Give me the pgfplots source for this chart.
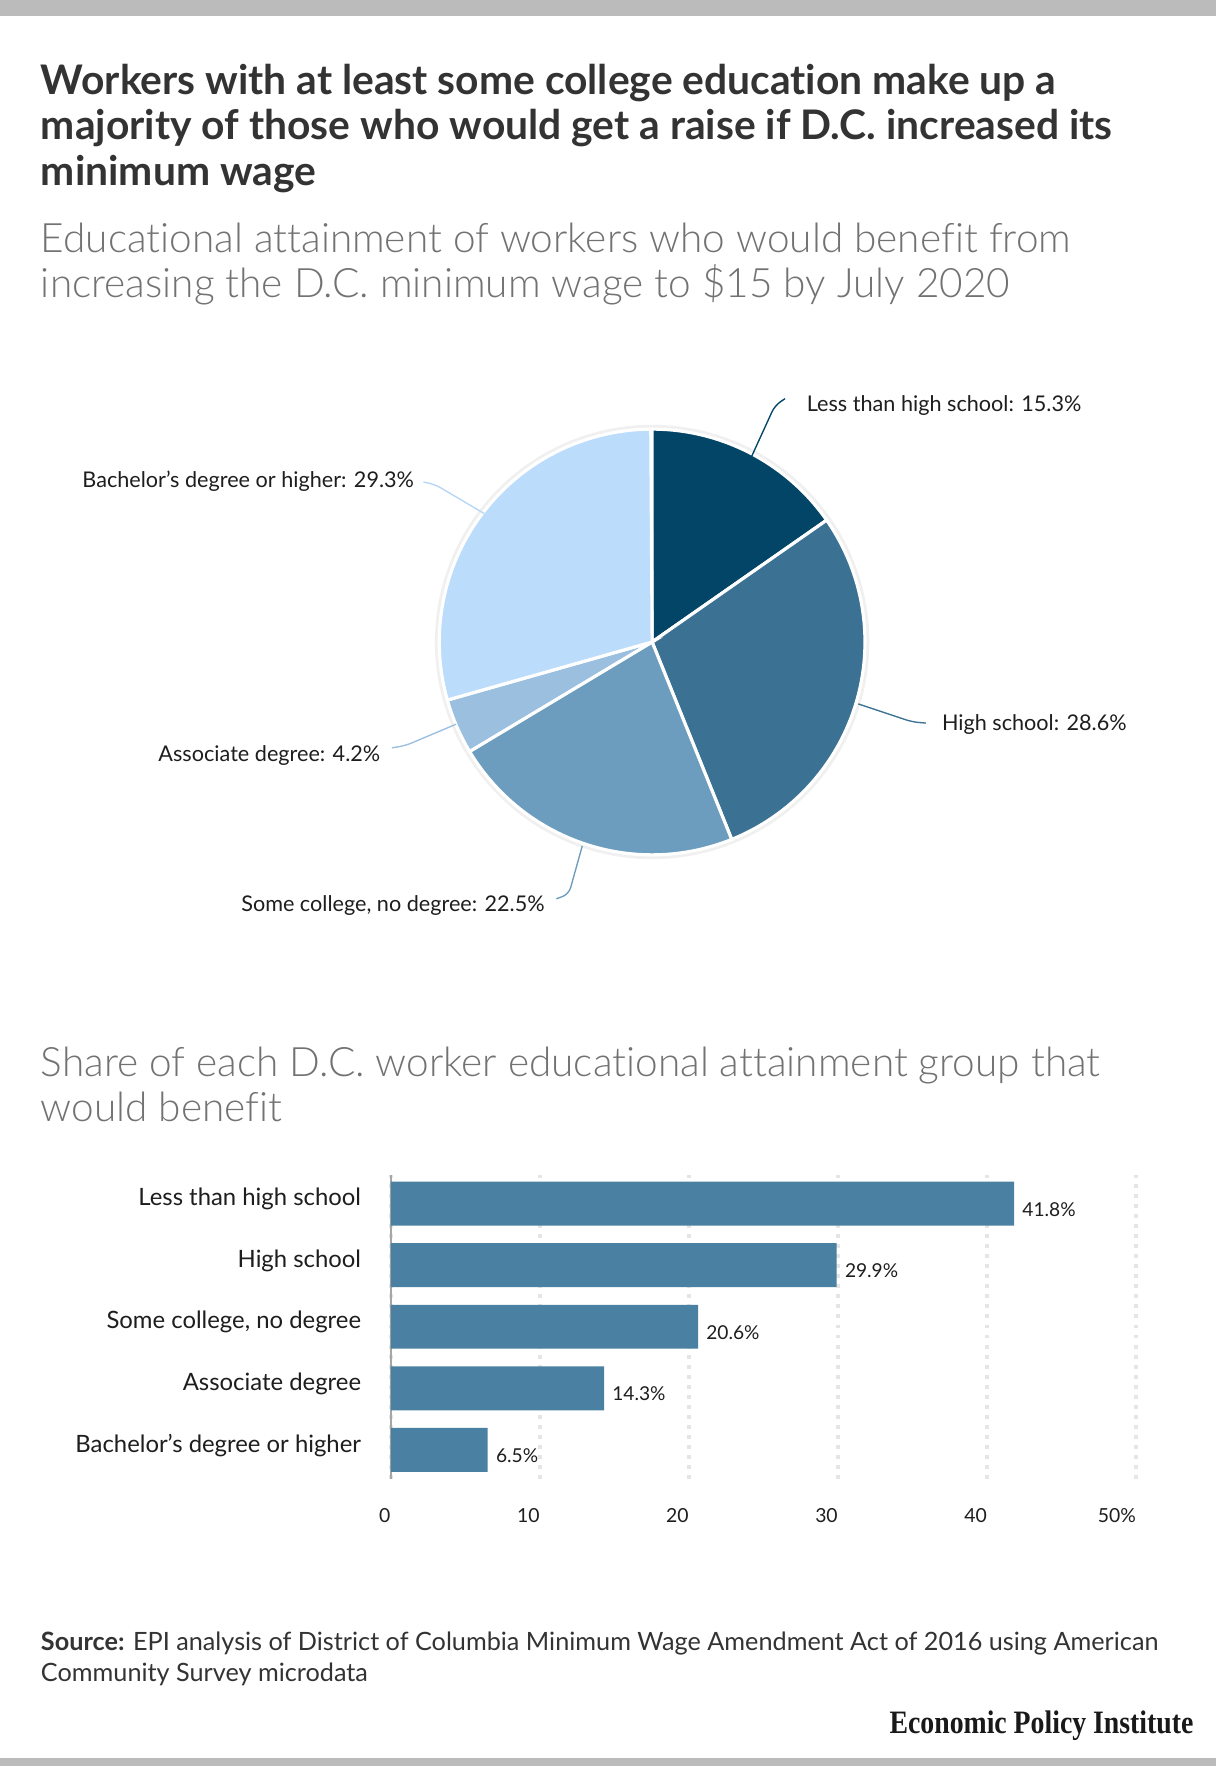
\documentclass[border=0pt]{standalone}
\usepackage{fontspec}
\setmainfont{Lato}[Ligatures={NoCommon}]
\newfontfamily\lightfont{Lato Light}[Ligatures={NoCommon}]
\newfontfamily\epifont[FakeStretch=0.85]{Liberation Serif}
\usepackage{pgfplots}
\pgfplotsset{compat=1.18}
\definecolor{cA}{HTML}{034566}
\definecolor{cB}{HTML}{3B7294}
\definecolor{cC}{HTML}{6C9DBE}
\definecolor{cD}{HTML}{9ABFDF}
\definecolor{cE}{HTML}{BCDCFC}
\definecolor{barc}{HTML}{4A80A1}
\definecolor{titlec}{HTML}{333333}
\definecolor{subc}{HTML}{727272}
\definecolor{labc}{HTML}{1E1E1E}
\definecolor{topgray}{HTML}{BBBBBB}
% pie shares (percent), clockwise from 12 o'clock
\def\pA{15.3}\def\pB{28.6}\def\pC{22.5}\def\pD{4.2}\def\pE{29.3}
\pgfmathsetmacro\aA{90}
\pgfmathsetmacro\aB{\aA-\pA*3.6}
\pgfmathsetmacro\aC{\aB-\pB*3.6}
\pgfmathsetmacro\aD{\aC-\pC*3.6}
\pgfmathsetmacro\aE{\aD-\pD*3.6}
\pgfmathsetmacro\aF{\aE-\pE*3.6}
\begin{document}
\begin{tikzpicture}[x=0.5pt,y=0.5pt]
\path[use as bounding box, fill=white] (0,0) rectangle (1080,-1568);
\fill[topgray] (0,0) rectangle (1080,-14);
\fill[topgray] (0,-1561) rectangle (1080,-1568);
% title
\begin{scope}[every node/.style={anchor=base west, inner sep=0pt, text=titlec, font=\fontsize{18.1}{20}\selectfont\bfseries}]
\node at (36,-84) {Workers with at least some college education make up a};
\node at (36,-124) {majority of those who would get a raise if D.C. increased its};
\node at (36,-165) {minimum wage};
\end{scope}
\begin{scope}[every node/.style={anchor=base west, inner sep=0pt, text=subc, font=\lightfont\fontsize{18}{20}\selectfont}]
\node at (36,-224) {Educational attainment of workers who would benefit from};
\node at (36,-264) {increasing the D.C. minimum wage to \$15 by July 2020};
\node at (36,-956) {Share of each D.C. worker educational attainment group that};
\node at (36,-996) {would benefit};
\end{scope}
% pie
\begin{axis}[at={(289.5pt,-285pt)}, anchor=center, x=94.5pt, y=94.5pt, scale only axis,
  xmin=-1, xmax=1, ymin=-1, ymax=1, hide axis, clip=false]
\addplot[draw=black!6, line width=1.6pt, domain=0:360, samples=120] ({1.012*cos(x)},{1.012*sin(x)});
\addplot[fill=cA, draw=white, line width=1.4pt, domain=\aB:\aA, samples=40] ({cos(x)},{sin(x)}) -- (0,0) -- cycle;
\addplot[fill=cB, draw=white, line width=1.4pt, domain=\aC:\aB, samples=60] ({cos(x)},{sin(x)}) -- (0,0) -- cycle;
\addplot[fill=cC, draw=white, line width=1.4pt, domain=\aD:\aC, samples=60] ({cos(x)},{sin(x)}) -- (0,0) -- cycle;
\addplot[fill=cD, draw=white, line width=1.4pt, domain=\aE:\aD, samples=20] ({cos(x)},{sin(x)}) -- (0,0) -- cycle;
\addplot[fill=cE, draw=white, line width=1.4pt, domain=\aF:\aE, samples=60] ({cos(x)},{sin(x)}) -- (0,0) -- cycle;
\end{axis}
% leader lines
\draw[cA, line width=0.6pt, rounded corners=3pt] (667,-406) -- (688,-360) -- (697,-354);
\draw[cE!80!cD, line width=0.6pt, rounded corners=3pt] (430,-456) -- (386,-430) -- (376,-428);
\draw[cB, line width=0.6pt, rounded corners=3pt] (762,-625) -- (810,-641) -- (822,-642);
\draw[cD, line width=0.6pt, rounded corners=3pt] (405,-643) -- (360,-662) -- (348,-664);
\draw[cC, line width=0.6pt, rounded corners=3pt] (517,-751) -- (505,-794) -- (494,-798);
\begin{scope}[every node/.style={inner sep=0pt, text=labc, font=\fontsize{9.6}{11}\selectfont}]
\node[anchor=base west] at (716,-365) {Less than high school: 15.3\%};
\node[anchor=base east] at (368,-433) {Bachelor’s degree or higher: 29.3\%};
\node[anchor=base west] at (836,-649) {High school: 28.6\%};
\node[anchor=base east] at (338,-676) {Associate degree: 4.2\%};
\node[anchor=base east] at (484,-809) {Some college, no degree: 22.5\%};
\end{scope}
% bar chart
\begin{axis}[at={(173.5pt,-656.5pt)}, anchor=south west, scale only axis,
  width=331pt, height=135pt,
  xbar, bar width=19.5pt,
  xmin=0, xmax=50, ymin=-0.47, ymax=4.47,
  axis lines*=left,
  x axis line style={draw=none},
  y axis line style={draw=black!35, line width=0.75pt},
  major tick length=0pt,
  xmajorgrids, grid style={black!10, line width=1.75pt, dash pattern=on 1.75pt off 2.7pt},
  xtick={0,10,20,30,40,50}, xticklabels={0,10,20,30,40,50\%},
  xticklabel style={anchor=north east, inner sep=0pt, yshift=-13pt, text=labc, font=\fontsize{8.6}{10}\selectfont},
  ytick={0,1,2,3,4},
  yticklabels={Bachelor’s degree or higher, Associate degree, {Some college, no degree}, High school, Less than high school},
  yticklabel style={anchor=east, inner sep=0pt, xshift=-13pt, yshift=2pt, text=labc, font=\fontsize{10.6}{12}\selectfont},
  point meta=x,
  nodes near coords={\pgfmathprintnumber[fixed,fixed zerofill,precision=1,assume math mode=true]{\pgfplotspointmeta}\%},
  nodes near coords style={anchor=west, inner sep=0pt, xshift=3.5pt, yshift=-2.5pt, text=labc, font=\fontsize{8.5}{10}\selectfont},
  clip=false]
\addplot[fill=barc, draw=none] coordinates {(41.8,4) (29.9,3) (20.6,2) (14.3,1) (6.5,0)};
\end{axis}
% source
\begin{scope}[every node/.style={anchor=base west, inner sep=0pt, text=titlec, font=\fontsize{11.2}{13}\selectfont}]
\node at (36,-1465) {\textbf{Source:} EPI analysis of District of Columbia Minimum Wage Amendment Act of 2016 using American};
\node at (36,-1493) {Community Survey microdata};
\end{scope}
\node[anchor=base east, inner sep=0pt, text=black!90, font=\epifont\fontsize{14.5}{16}\selectfont\bfseries] at (1060,-1539) {Economic Policy Institute};
\end{tikzpicture}
\end{document}
